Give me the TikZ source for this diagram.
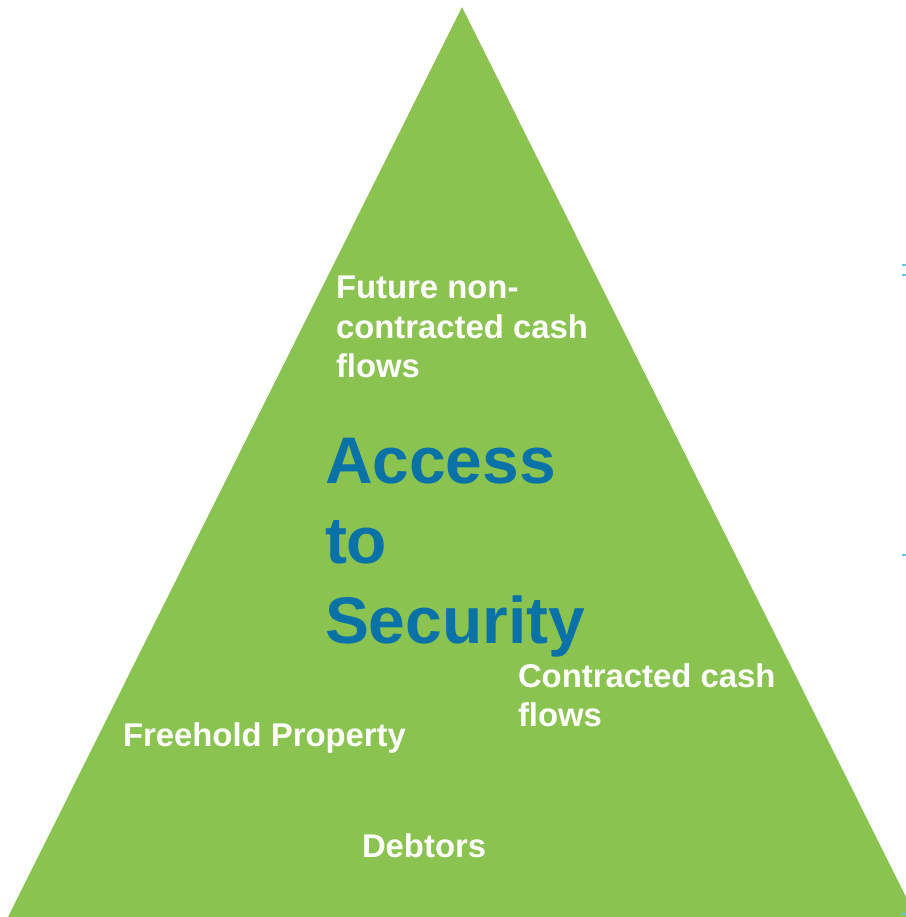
\documentclass[tikz,border=0pt]{standalone}
\usepackage{fontspec}
\setmainfont{Liberation Sans}
\usepackage{tikz}
\definecolor{pyrgreen}{RGB}{139,195,80}
\definecolor{secblue}{RGB}{11,114,167}
\definecolor{tickblue}{RGB}{91,200,240}

\begin{document}
\begin{tikzpicture}[x=0.02cm, y=-0.02cm,
  every node/.style={inner sep=0pt, outer sep=0pt},
  itemtext/.style={anchor=base west, align=left, text=white, font=\fontsize{18.7pt}{22.2pt}\selectfont\bfseries},
  bigtext/.style={anchor=base west, align=left, text=secblue, font=\fontsize{37.5pt}{45.4pt}\selectfont\bfseries}]
  \useasboundingbox (0,0) rectangle (906,917);
  \clip (0,0) rectangle (906,917);
  % pyramid
  \coordinate (apex) at (462,7);
  \coordinate (baseR) at (916,917);
  \coordinate (baseL) at (8,917);
  \fill[pyrgreen] (apex) -- (baseR) -- (baseL) -- cycle;
  % labels (placed at the baseline of their last line)
  \node[itemtext] (future) at (336,377) {Future non-\\contracted cash\\flows};
  \node[bigtext] (access) at (325,643) {Access\\to\\Security};
  \node[itemtext] (contracted) at (518,726) {Contracted cash\\flows};
  \node[itemtext] (freehold) at (123,746) {Freehold Property};
  \node[itemtext] (debtors) at (362,857) {Debtors};
  % cut-off marks on the right edge
  \fill[tickblue] (902,264) rectangle (906,266);
  \fill[tickblue] (902,274) rectangle (906,276);
  \fill[tickblue] (902,554) rectangle (906,556);
  \fill[tickblue] (902,913) rectangle (906,915);
\end{tikzpicture}
\end{document}
